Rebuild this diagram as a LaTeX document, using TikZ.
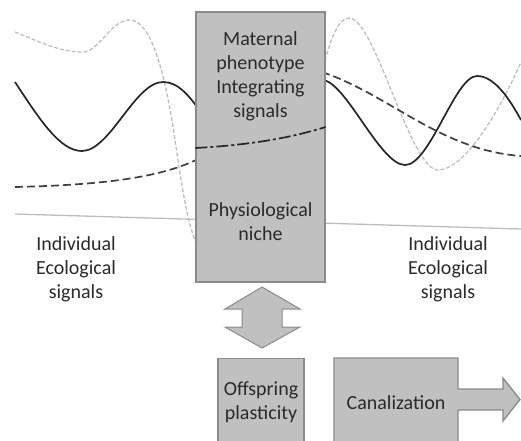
\documentclass[tikz,border=0pt]{standalone}
\usepackage{fontspec}
\setmainfont{Carlito}
\definecolor{boxfill}{HTML}{C0C0C0}
\definecolor{boxline}{HTML}{8A8A8A}
\definecolor{txt}{HTML}{2A2A2A}
\definecolor{lightcurve}{HTML}{BEBEBE}
\definecolor{hline}{HTML}{BDBDBD}
\tikzset{
  panel/.style={draw=boxline, fill=boxfill, line width=1.3pt},
  lbl/.style={text=txt, align=center, font=\fontsize{20}{24}\selectfont, inner sep=0pt},
  solidcurve/.style={draw=black!85, line width=1.7pt},
  dashcurve/.style={draw=black!75, line width=1.7pt, dash pattern=on 8pt off 4pt},
  greycurve/.style={draw=lightcurve, line width=1.3pt, dash pattern=on 4pt off 2pt},
  dashdotcurve/.style={draw=black!85, line width=1.7pt, dash pattern=on 12pt off 3pt on 3pt off 3pt}
}
\begin{document}
\begin{tikzpicture}[x=1pt, y=-1pt]
\useasboundingbox (0,0) rectangle (521,440);
\clip (0,0) rectangle (521,440);
% horizontal boundary line
\draw[hline, line width=1.3pt] (15,214) -- (521,229);
% signal curves (left)
\draw[greycurve] (15,32) .. controls (40,42) and (60,52) .. (82,52)
  .. controls (100,52) and (110,20) .. (130,20)
  .. controls (150,20) and (165,70) .. (175,140)
  .. controls (183,195) and (188,225) .. (198,248);
\draw[solidcurve] (15,82) .. controls (40,120) and (60,151) .. (82,151)
  .. controls (110,151) and (135,82) .. (163,82)
  .. controls (178,82) and (188,95) .. (198,108);
\draw[dashcurve] (15,187) .. controls (100,185) and (160,178) .. (198,159);
% signal curves (right)
\draw[greycurve] (322,72) .. controls (330,40) and (338,18) .. (349,18)
  .. controls (375,18) and (410,170) .. (438,170)
  .. controls (465,170) and (500,110) .. (521,62);
\draw[solidcurve] (322,80) .. controls (345,80) and (380,165) .. (405,165)
  .. controls (430,165) and (455,76) .. (477,76)
  .. controls (495,76) and (510,100) .. (521,120);
\draw[dashcurve] (322,72) .. controls (390,95) and (440,150) .. (521,156);
% main box
\node[panel, minimum width=129pt, minimum height=270pt, inner sep=0pt] (maternal) at (260.5,147) {};
\draw[dashdotcurve] (maternal.west |- 0,148) .. controls (250,145) and (290,138) .. (maternal.east |- 0,127);
\node[lbl] (mattext) at (260.5,76) {Maternal\\phenotype\\Integrating\\signals};
\node[lbl] (physio) at (260.5,222) {Physiological\\niche};
% side labels
\node[lbl] (leftsig) at (76,269) {Individual\\Ecological\\signals};
\node[lbl] (rightsig) at (448,269) {Individual\\Ecological\\signals};
% double arrow
\draw[panel, line width=1pt] (262,287) -- (300,309) -- (282,309) -- (282,327) -- (300,327) -- (262,348)
  -- (225,327) -- (242,327) -- (242,309) -- (225,309) -- cycle;
% offspring box
\node[panel, minimum width=86pt, minimum height=100pt, inner sep=0pt, anchor=north] (offspring) at (261,358) {};
\node[lbl] (offtext) at (261,402) {Offspring\\plasticity};
% canalization box with arrow
\draw[panel] (334,358) -- (458,358) -- (458,389) -- (503,389) -- (503,378) -- (520,399.5)
  -- (503,421) -- (503,410) -- (458,410) -- (458,450) -- (334,450) -- cycle;
\node[lbl] (canal) at (396,403) {Canalization};
\end{tikzpicture}
\end{document}
